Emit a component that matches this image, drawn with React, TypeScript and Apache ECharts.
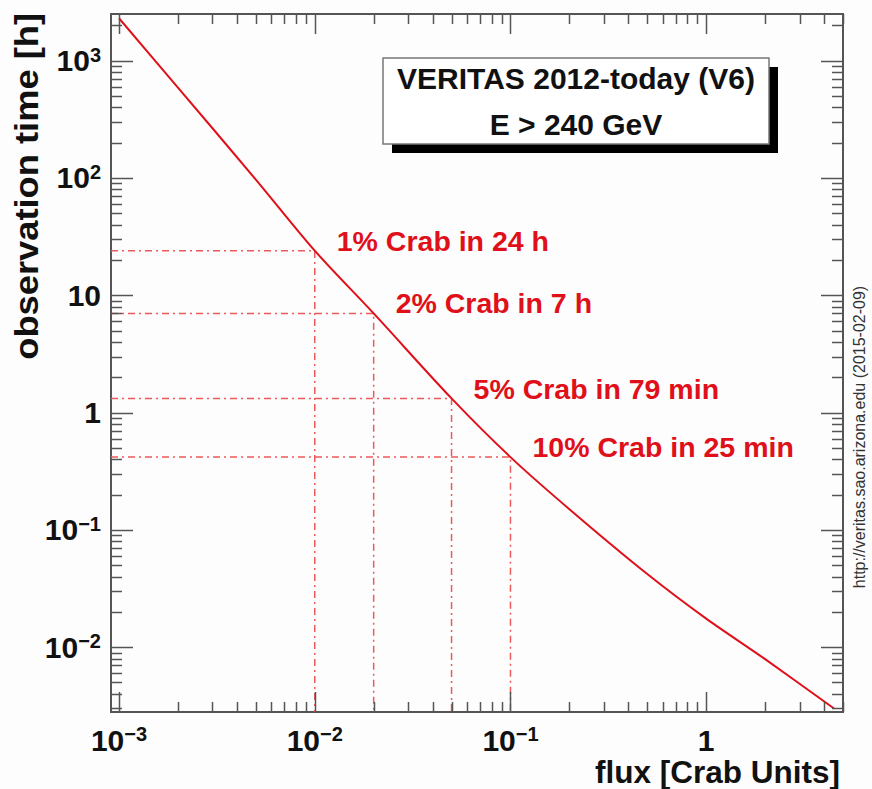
import React, { useEffect, useRef } from 'react';
import * as echarts from 'echarts';

// ---- data ----
const fluxCrab = [0.001, 0.002, 0.005, 0.01, 0.02, 0.05, 0.1, 0.2, 0.5, 1, 2, 4.5];
const obsTimeH = [2300, 590, 97, 24, 7, 1.32, 0.417, 0.15, 0.042, 0.0175, 0.0079, 0.003];

const markFlux = [0.01, 0.02, 0.05, 0.1];
const markTime = [24, 7, 1.317, 0.417];
const markLabels = ['1% Crab in 24 h', '2% Crab in 7 h', '5% Crab in 79 min', '10% Crab in 25 min'];

const xDecades = [-3, -2, -1, 0];
const yDecades = [-2, -1, 0, 1, 2, 3];

const X_MIN = 0.00091;
const X_MAX = 5;
const Y_MIN = 0.0028;
const Y_MAX = 2500;

const FONT = '"Liberation Sans", Arial, Helvetica, sans-serif';
const RED = '#e0101a';
const DASH_RED = '#ec5a5a';

function tickValues(decades: number[], lo: number, hi: number) {
  const out: { v: number; major: boolean }[] = [];
  for (const e of decades.concat([decades[0] - 1, decades[decades.length - 1]])) {
    for (let k = 1; k <= 9; k++) {
      const v = Number((k * Math.pow(10, e)).toPrecision(6));
      if (v >= lo * 0.9999 && v <= hi * 1.0001 && !out.some((o) => o.v === v)) {
        out.push({ v, major: k === 1 });
      }
    }
  }
  return out;
}

function powLabel(v: number) {
  const e = Math.log10(v);
  const r = Math.round(e);
  if (Math.abs(e - r) > 1e-6) return '';
  if (r === 0) return '{b|1}';
  if (r === 1) return '{b|10}';
  return '{b|10}{s|' + (r < 0 ? '\u2212' + -r : String(r)) + '}';
}

const labelRich = {
  b: { fontSize: 30, fontWeight: 'bold', fontFamily: FONT, color: '#111', lineHeight: 32 },
  s: { fontSize: 20, fontWeight: 'bold', fontFamily: FONT, color: '#111', lineHeight: 18, verticalAlign: 'top' },
};

export default function App() {
  const ref = useRef<HTMLDivElement>(null);
  useEffect(() => {
    if (!ref.current) return;
    const chart = echarts.init(ref.current, undefined, { renderer: 'svg' });

    const xt = tickValues(xDecades, X_MIN, X_MAX);
    const yt = tickValues(yDecades, Y_MIN, Y_MAX);
    const tickData: any[] = [];
    xt.forEach((t) => tickData.push({ value: [t.v, Y_MIN, 1, t.major ? 20 : 10] }));
    yt.forEach((t) => tickData.push({ value: [X_MIN, t.v, 0, t.major ? 22 : 11] }));

    const series: any[] = [];
    series.push({
      type: 'custom',
      silent: true,
      z: 5,
      data: tickData,
      encode: { x: 0, y: 1 },
      renderItem: (params: any, api: any) => {
        const cs = params.coordSys;
        const p = api.coord([api.value(0), api.value(1)]);
        const isX = api.value(2) === 1;
        const len = api.value(3);
        const st = { stroke: '#555', lineWidth: 1.5 };
        const children: any[] = [];
        if (isX) {
          const x = Math.round(p[0]) + 0.5;
          children.push({ type: 'line', shape: { x1: x, y1: cs.y + cs.height, x2: x, y2: cs.y + cs.height - len }, style: st });
          children.push({ type: 'line', shape: { x1: x, y1: cs.y, x2: x, y2: cs.y + len }, style: st });
        } else {
          const y = Math.round(p[1]) + 0.5;
          children.push({ type: 'line', shape: { x1: cs.x, y1: y, x2: cs.x + len, y2: y }, style: st });
          children.push({ type: 'line', shape: { x1: cs.x + cs.width, y1: y, x2: cs.x + cs.width - len, y2: y }, style: st });
        }
        return { type: 'group', children };
      },
    });

    markFlux.forEach((f, i) => {
      series.push({
        type: 'line',
        symbol: 'none',
        silent: true,
        z: 2,
        lineStyle: { color: DASH_RED, width: 1.5, type: [7, 4, 2, 4] },
        data: [
          [X_MIN, markTime[i]],
          [f, markTime[i]],
          [f, Y_MIN],
        ],
      });
    });

    series.push({
      type: 'scatter',
      symbolSize: 0,
      silent: true,
      z: 6,
      itemStyle: { opacity: 1 },
      data: markFlux.map((f, i) => ({ value: [f, markTime[i]], name: markLabels[i] })),
      label: {
        show: true,
        position: [22, -10],
        align: 'left',
        verticalAlign: 'middle',
        formatter: (p: any) => p.name,
        fontFamily: FONT,
        fontWeight: 'bold',
        fontSize: 28.5,
        color: RED,
        opacity: 1,
      },
    });

    series.push({
      type: 'line',
      symbol: 'none',
      smooth: 0.3,
      silent: true,
      z: 4,
      lineStyle: { color: RED, width: 2 },
      data: fluxCrab.map((f, i) => [f, obsTimeH[i]]),
    });

    chart.setOption({
      animation: false,
      backgroundColor: '#fdfdfd',
      grid: { left: 111, top: 14, right: 29, bottom: 77, show: true, borderColor: '#555', borderWidth: 2, backgroundColor: 'transparent' },
      xAxis: {
        type: 'log',
        logBase: 10,
        min: X_MIN,
        max: X_MAX,
        axisLine: { show: false },
        axisTick: { show: false },
        splitLine: { show: false },
        axisLabel: { formatter: powLabel, rich: labelRich, margin: 12, showMinLabel: true, showMaxLabel: true, hideOverlap: false },
      },
      yAxis: {
        type: 'log',
        logBase: 10,
        min: Y_MIN,
        max: Y_MAX,
        axisLine: { show: false },
        axisTick: { show: false },
        splitLine: { show: false },
        axisLabel: { formatter: powLabel, rich: labelRich, margin: 10, hideOverlap: false },
      },
      graphic: [
        { type: 'rect', shape: { x: 392, y: 67, width: 386, height: 86 }, style: { fill: '#000' }, z: 10 },
        { type: 'rect', shape: { x: 383, y: 58, width: 386, height: 86 }, style: { fill: '#fff', stroke: '#777', lineWidth: 1.5 }, z: 11 },
        {
          type: 'text', x: 576, y: 78, z: 12,
          style: { text: 'VERITAS 2012-today (V6)', font: 'bold 30px ' + FONT, fill: '#111', textAlign: 'center', textVerticalAlign: 'middle' },
        },
        {
          type: 'text', x: 576, y: 124, z: 12,
          style: { text: 'E > 240 GeV', font: 'bold 30px ' + FONT, fill: '#111', textAlign: 'center', textVerticalAlign: 'middle' },
        },
        {
          type: 'text', x: 27, y: 13, rotation: Math.PI / 2, scaleX: 1.1, z: 12,
          style: { text: 'observation time [h]', font: 'bold 33px ' + FONT, fill: '#111', textAlign: 'right', textVerticalAlign: 'middle' },
        },
        {
          type: 'text', x: 840, y: 772, z: 12,
          style: { text: 'flux [Crab Units]', font: 'bold 31.5px ' + FONT, fill: '#111', textAlign: 'right', textVerticalAlign: 'middle' },
        },
        {
          type: 'text', x: 859, y: 437, rotation: Math.PI / 2, z: 12,
          style: { text: 'http://veritas.sao.arizona.edu (2015-02-09)', font: '16px ' + FONT, fill: '#333', textAlign: 'center', textVerticalAlign: 'middle' },
        },
      ],
      series,
    });
    return () => chart.dispose();
  }, []);
  return <div ref={ref} style={{ position: 'fixed', left: 0, top: 0, width: 872, height: 789 }} />;
}
